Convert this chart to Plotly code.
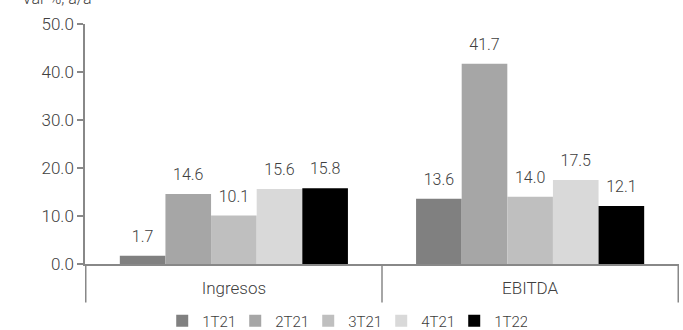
import plotly.graph_objects as go

categories = ["Ingresos", "EBITDA"]
series_names = ["1T21", "2T21", "3T21", "4T21", "1T22"]
v_1T21 = [1.7, 13.6]
v_2T21 = [14.6, 41.7]
v_3T21 = [10.1, 14.0]
v_4T21 = [15.6, 17.5]
v_1T22 = [15.8, 12.1]
series_values = [v_1T21, v_2T21, v_3T21, v_4T21, v_1T22]
colors = ["#808080", "#a6a6a6", "#bfbfbf", "#d9d9d9", "#000000"]
y_ticks = [0, 10, 20, 30, 40, 50]
title_text = "Var %, a/a"

FONT = "Roboto"
TXT = "#404040"
AX = "#888888"
GAP = 0.23

fig = go.Figure()
for name, vals, col in zip(series_names, series_values, colors):
    fig.add_trace(go.Bar(
        x=categories, y=vals, name=name,
        marker=dict(color=col, line=dict(width=0)),
    ))
# value labels, grouped the same way as the bars
for name, vals in zip(series_names, series_values):
    fig.add_trace(go.Scatter(
        x=categories, y=vals, name=name + " label", mode="markers+text",
        text=[f"{v:.1f}" for v in vals], textposition="top center",
        marker=dict(size=14, opacity=0),
        textfont=dict(family=FONT, size=16, color=TXT, weight=300),
        showlegend=False, hoverinfo="skip", cliponaxis=False,
    ))

# category separators (axis decoration at category boundaries)
shapes = [dict(type="line", xref="x", yref="y domain",
               x0=i - 0.5, x1=i - 0.5, y0=0, y1=-0.16,
               line=dict(color=AX, width=1.5))
          for i in range(len(categories) + 1)]

fig.update_layout(
    width=683, height=330,
    margin=dict(l=85, r=4, t=24, b=66, autoexpand=False),
    paper_bgcolor="white", plot_bgcolor="white",
    barmode="group", bargap=GAP, bargroupgap=0,
    scattermode="group", scattergap=GAP,
    font=dict(family=FONT, size=16, color=TXT, weight=300),
    showlegend=True,
    legend=dict(orientation="h", x=0.13, xanchor="left", y=-0.2375, yanchor="middle",
                font=dict(family=FONT, size=15, color=TXT, weight=300),
                itemwidth=30, entrywidth=28, entrywidthmode="pixels",
                tracegroupgap=0, traceorder="normal"),
    shapes=shapes,
    annotations=[dict(text=title_text, xref="paper", yref="paper", x=-0.11, y=1.0,
                      xanchor="left", yanchor="bottom", yshift=14, showarrow=False,
                      font=dict(family=FONT, size=16, color=TXT, weight=300))],
)
fig.update_yaxes(
    range=[0, 50], tickvals=y_ticks, tickformat=".1f",
    showgrid=False, zeroline=False, automargin=False,
    showline=True, linecolor=AX, linewidth=1.5,
    ticks="outside", ticklen=6, tickcolor=AX, tickwidth=1.5,
    tickfont=dict(family=FONT, size=17, color=TXT, weight=300),
)
fig.update_xaxes(
    showgrid=False, showline=True, linecolor=AX, linewidth=1.5, automargin=False,
    ticks="outside", ticklen=8, tickcolor="rgba(0,0,0,0)",
    tickfont=dict(family=FONT, size=17, color=TXT, weight=300),
)

fig.write_html("out.html")
